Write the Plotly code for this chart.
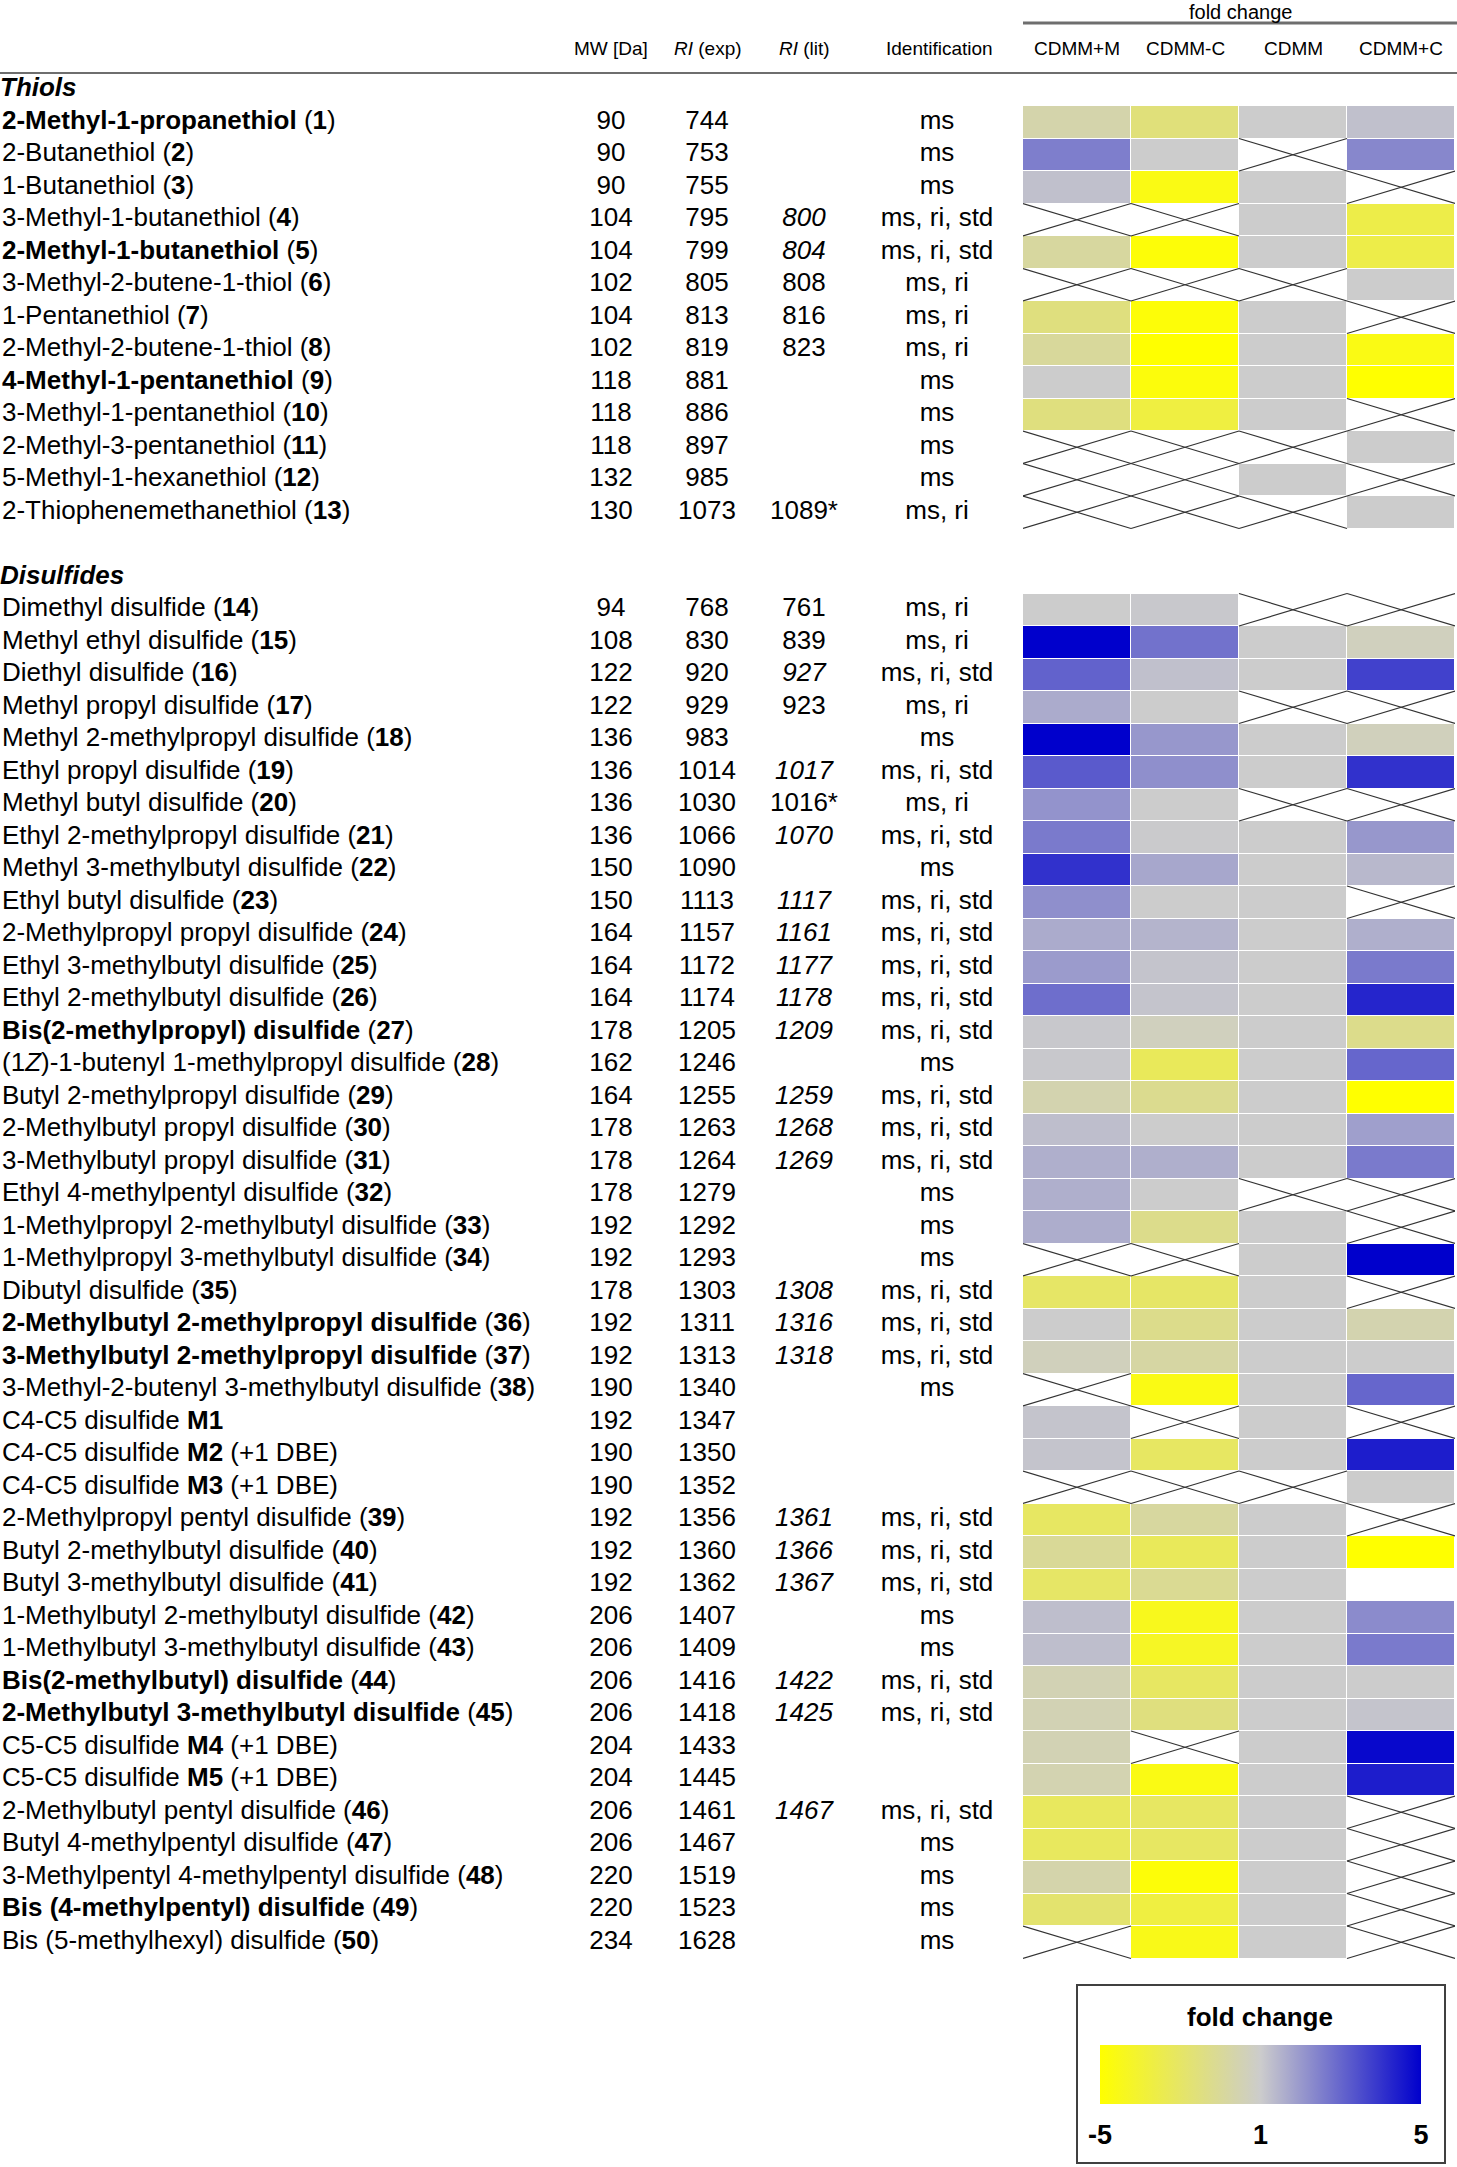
import numpy as np
import plotly.graph_objects as go

FONT = "Liberation Sans, Arial, sans-serif"

# ---- thiols ----
thiol_names = ["2-Methyl-1-propanethiol", "2-Butanethiol", "1-Butanethiol", "3-Methyl-1-butanethiol",
               "2-Methyl-1-butanethiol", "3-Methyl-2-butene-1-thiol", "1-Pentanethiol",
               "2-Methyl-2-butene-1-thiol", "4-Methyl-1-pentanethiol", "3-Methyl-1-pentanethiol",
               "2-Methyl-3-pentanethiol", "5-Methyl-1-hexanethiol", "2-Thiophenemethanethiol"]
thiol_ids = ["1", "2", "3", "4", "5", "6", "7", "8", "9", "10", "11", "12", "13"]
thiol_notes = [""] * 13
thiol_mw = [90, 90, 90, 104, 104, 102, 104, 102, 118, 118, 118, 132, 130]
thiol_ri_exp = [744, 753, 755, 795, 799, 805, 813, 819, 881, 886, 897, 985, 1073]
thiol_ri_lit = ["", "", "", "800", "804", "808", "816", "823", "", "", "", "", "1089*"]
thiol_ident = ["ms", "ms", "ms", "ms, ri, std", "ms, ri, std", "ms, ri", "ms, ri", "ms, ri",
               "ms", "ms", "ms", "ms", "ms, ri"]

# ---- disulfides ----
dis_names = ["Dimethyl disulfide", "Methyl ethyl disulfide", "Diethyl disulfide", "Methyl propyl disulfide",
             "Methyl 2-methylpropyl disulfide", "Ethyl propyl disulfide", "Methyl butyl disulfide",
             "Ethyl 2-methylpropyl disulfide", "Methyl 3-methylbutyl disulfide", "Ethyl butyl disulfide",
             "2-Methylpropyl propyl disulfide", "Ethyl 3-methylbutyl disulfide", "Ethyl 2-methylbutyl disulfide",
             "Bis(2-methylpropyl) disulfide", "(1<i>Z</i>)-1-butenyl 1-methylpropyl disulfide",
             "Butyl 2-methylpropyl disulfide", "2-Methylbutyl propyl disulfide", "3-Methylbutyl propyl disulfide",
             "Ethyl 4-methylpentyl disulfide", "1-Methylpropyl 2-methylbutyl disulfide",
             "1-Methylpropyl 3-methylbutyl disulfide", "Dibutyl disulfide",
             "2-Methylbutyl 2-methylpropyl disulfide", "3-Methylbutyl 2-methylpropyl disulfide",
             "3-Methyl-2-butenyl 3-methylbutyl disulfide", "C4-C5 disulfide", "C4-C5 disulfide",
             "C4-C5 disulfide", "2-Methylpropyl pentyl disulfide", "Butyl 2-methylbutyl disulfide",
             "Butyl 3-methylbutyl disulfide", "1-Methylbutyl 2-methylbutyl disulfide",
             "1-Methylbutyl 3-methylbutyl disulfide", "Bis(2-methylbutyl) disulfide",
             "2-Methylbutyl 3-methylbutyl disulfide", "C5-C5 disulfide", "C5-C5 disulfide",
             "2-Methylbutyl pentyl disulfide", "Butyl 4-methylpentyl disulfide",
             "3-Methylpentyl 4-methylpentyl disulfide", "Bis (4-methylpentyl) disulfide",
             "Bis (5-methylhexyl) disulfide"]
dis_ids = ["14", "15", "16", "17", "18", "19", "20", "21", "22", "23", "24", "25", "26", "27", "28", "29",
           "30", "31", "32", "33", "34", "35", "36", "37", "38", "M1", "M2", "M3", "39", "40", "41", "42",
           "43", "44", "45", "M4", "M5", "46", "47", "48", "49", "50"]
dis_notes = [""] * 26 + ["(+1 DBE)", "(+1 DBE)"] + [""] * 7 + ["(+1 DBE)", "(+1 DBE)"] + [""] * 5
dis_mw = [94, 108, 122, 122, 136, 136, 136, 136, 150, 150, 164, 164, 164, 178, 162, 164, 178, 178, 178,
          192, 192, 178, 192, 192, 190, 192, 190, 190, 192, 192, 192, 206, 206, 206, 206, 204, 204,
          206, 206, 220, 220, 234]
dis_ri_exp = [768, 830, 920, 929, 983, 1014, 1030, 1066, 1090, 1113, 1157, 1172, 1174, 1205, 1246, 1255,
              1263, 1264, 1279, 1292, 1293, 1303, 1311, 1313, 1340, 1347, 1350, 1352, 1356, 1360, 1362,
              1407, 1409, 1416, 1418, 1433, 1445, 1461, 1467, 1519, 1523, 1628]
dis_ri_lit = ["761", "839", "927", "923", "", "1017", "1016*", "1070", "", "1117", "1161", "1177", "1178",
              "1209", "", "1259", "1268", "1269", "", "", "", "1308", "1316", "1318", "", "", "", "",
              "1361", "1366", "1367", "", "", "1422", "1425", "", "", "1467", "", "", "", ""]
dis_ident = ["ms, ri", "ms, ri", "ms, ri, std", "ms, ri", "ms", "ms, ri, std", "ms, ri", "ms, ri, std", "ms",
             "ms, ri, std", "ms, ri, std", "ms, ri, std", "ms, ri, std", "ms, ri, std", "ms", "ms, ri, std",
             "ms, ri, std", "ms, ri, std", "ms", "ms", "ms", "ms, ri, std", "ms, ri, std", "ms, ri, std", "ms",
             "", "", "", "ms, ri, std", "ms, ri, std", "ms, ri, std", "ms", "ms", "ms, ri, std", "ms, ri, std",
             "", "", "ms, ri, std", "ms", "ms", "ms", "ms"]

bold_ids = {"1", "5", "9", "27", "36", "37", "44", "45", "49"}

# fold change on the colour scale (-5 ... 5, centre = 1); "x" = not detected, None = empty
columns = ["CDMM+M", "CDMM-C", "CDMM", "CDMM+C"]
thiol_fc = {
    "CDMM+M": [-0.8, 1.9, 0.3, "x", -1.1, "x", -1.9, -1.2, 0.0, -1.9, "x", "x", "x"],
    "CDMM-C": [-2.0, 0.0, -4.5, "x", -4.8, "x", -4.8, -5.0, -4.7, -3.4, "x", "x", "x"],
    "CDMM":   [0.0, "x", 0.0, 0.0, 0.0, "x", 0.0, 0.0, 0.0, 0.0, "x", 0.0, "x"],
    "CDMM+C": [0.3, 1.7, "x", -3.2, -3.2, 0.0, "x", -4.5, -5.0, "x", 0.0, "x", 0.0],
}
dis_fc = {
    "CDMM+M": [0.0, 5.0, 2.6, 0.8, 5.0, 2.8, 1.4, 2.0, 3.8, 1.5, 0.8, 1.2, 2.3, 0.1, 0.1, -0.7, 0.35, 0.7,
               0.7, 0.75, "x", -2.5, 0.0, -0.4, "x", 0.2, 0.2, "x", -2.6, -1.3, -2.5, 0.35, 0.35, -0.6,
               -0.6, -0.6, -0.65, -2.7, -2.7, -0.8, -2.3, "x"],
    "CDMM-C": [0.1, 2.2, 0.3, 0.0, 1.3, 1.5, 0.0, 0.05, 0.9, 0.0, 0.6, 0.2, 0.2, -0.35, -2.8, -1.5, 0.0,
               0.7, 0.0, -1.6, "x", -2.5, -1.6, -1.0, -4.5, "x", -2.6, "x", -1.1, -2.8, -1.4, -4.3, -4.1,
               -2.6, -1.9, "x", -4.5, -2.6, -2.6, -4.8, -3.4, -4.4],
    "CDMM":   ["x", 0.0, 0.0, "x", 0.0, 0.0, "x", 0.0, 0.0, 0.0, 0.0, 0.0, 0.0, 0.0, 0.0, 0.0, 0.0, 0.0,
               "x", 0.0, 0.0, 0.0, 0.0, 0.0, 0.0, 0.0, 0.0, "x", 0.0, 0.0, 0.0, 0.0, 0.0, 0.0, 0.0, 0.0,
               0.0, 0.0, 0.0, 0.0, 0.0, 0.0],
    "CDMM+C": ["x", -0.35, 3.4, "x", -0.4, 3.8, "x", 1.3, 0.5, "x", 0.7, 2.0, 4.1, -1.6, 2.5, -5.0, 1.1,
               2.0, "x", "x", 5.0, "x", -0.7, 0.0, 2.5, "x", 4.3, 0.0, "x", -5.0, None, 1.6, 2.0, 0.0,
               0.2, 4.8, 4.3, "x", "x", "x", "x", "x"],
}


def name_html(name, cid, note):
    if cid.startswith("M"):
        s = f"{name} <b>{cid}</b>"
        return s + " " + note if note else s
    body = f"<b>{name}</b>" if cid in bold_ids else name
    return f"{body} (<b>{cid}</b>)"


def lit_html(val, ident):
    return f"<i>{val}</i>" if val and "std" in ident else val


def num(v):
    return v if isinstance(v, (int, float)) else np.nan


# table rows: thiols 0..12, blank, "Disulfides" header, disulfides
thiol_rows = list(range(len(thiol_names)))
dis_start = len(thiol_names) + 2
dis_rows = [dis_start + i for i in range(len(dis_names))]
n_rows = dis_start + len(dis_names)
all_rows = thiol_rows + dis_rows

labels = [name_html(n, c, t) for n, c, t in zip(thiol_names + dis_names, thiol_ids + dis_ids,
                                                 thiol_notes + dis_notes)]
mw = [str(v) for v in thiol_mw + dis_mw]
ri_exp = [str(v) for v in thiol_ri_exp + dis_ri_exp]
idents = thiol_ident + dis_ident
ri_lit = [lit_html(v, i) for v, i in zip(thiol_ri_lit + dis_ri_lit, idents)]

z = np.full((n_rows, len(columns)), np.nan)
cross_x, cross_y = [], []
for j, col in enumerate(columns):
    vals = thiol_fc[col] + dis_fc[col]
    for r, v in zip(all_rows, vals):
        z[r, j] = num(v)
        if v == "x":
            cross_x += [j - 0.5, j + 0.5, None, j - 0.5, j + 0.5, None]
            cross_y += [r - 0.5, r + 0.5, None, r + 0.5, r - 0.5, None]

W, H = 1457, 2167
ROW0, ROWH = 122.25, 32.5          # pixel centre of first row, row height
HM_L, HM_R = 1023, 1455            # heatmap pixel extent


def py(px):
    return 1 - px / H


fig = go.Figure()

fig.add_trace(go.Heatmap(
    z=z, x=list(range(len(columns))), y=list(range(n_rows)),
    colorscale=[[0, "#FFFF00"], [0.5, "#CCCCCC"], [1, "#0000CC"]],
    zmin=-5, zmax=5, xgap=1, ygap=1, hoverongaps=False,
    colorbar=dict(orientation="h", lenmode="pixels", len=321, thicknessmode="pixels", thickness=59,
                  x=1260.5 / W, xanchor="center", y=py(2045), yanchor="top", xpad=0, ypad=0,
                  outlinewidth=0, tickvals=[-5, 0, 5], ticktext=["-5", "1", "5"],
                  ticks="outside", ticklen=8, tickcolor="rgba(0,0,0,0)",
                  tickfont=dict(family=FONT, size=27, color="black", weight="bold")),
    xaxis="x", yaxis="y",
))

fig.add_trace(go.Scatter(x=cross_x, y=cross_y, mode="lines", line=dict(color="#333333", width=1.2),
                         hoverinfo="skip", showlegend=False, xaxis="x", yaxis="y"))

text_font = dict(family=FONT, size=26, color="black")
text_cols = [(2, labels, "middle right"), (611, mw, "middle center"), (707, ri_exp, "middle center"),
             (804, ri_lit, "middle center"), (937, idents, "middle center")]
for xpos, txt, tpos in text_cols:
    fig.add_trace(go.Scatter(x=[xpos] * len(txt), y=all_rows, text=txt, mode="text", textposition=tpos,
                             textfont=text_font, hoverinfo="skip", showlegend=False,
                             xaxis="x2", yaxis="y"))

# group headers
fig.add_trace(go.Scatter(x=[0, 0], y=[-1, len(thiol_names) + 1],
                         text=["<b><i>Thiols</i></b>", "<b><i>Disulfides</i></b>"],
                         mode="text", textposition="middle right", textfont=text_font,
                         hoverinfo="skip", showlegend=False, xaxis="x2", yaxis="y"))

head_font = dict(family=FONT, size=19, color="black")
annotations = []
for xpos, txt in [(611, "MW [Da]"), (708, "<i>RI</i> (exp)"), (805, "<i>RI</i> (lit)"),
                  (939, "Identification")]:
    annotations.append(dict(x=xpos / W, y=py(48), xref="paper", yref="paper", text=txt,
                            showarrow=False, font=head_font, xanchor="center", yanchor="middle"))
for j, col in enumerate(columns):
    annotations.append(dict(x=j, y=py(48), xref="x", yref="paper", text=col, showarrow=False,
                            font=head_font, xanchor="center", yanchor="middle"))
annotations.append(dict(x=(HM_L + W) / 2 / W, y=py(12), xref="paper", yref="paper", text="fold change",
                        showarrow=False, font=dict(family=FONT, size=20, color="black"),
                        xanchor="center", yanchor="middle"))
annotations.append(dict(x=1260 / W, y=py(2017), xref="paper", yref="paper", text="<b>fold change</b>",
                        showarrow=False, font=dict(family=FONT, size=26, color="black"),
                        xanchor="center", yanchor="middle"))

shapes = [
    dict(type="line", xref="paper", yref="paper", x0=0, x1=1, y0=py(73), y1=py(73),
         line=dict(color="#6e6e6e", width=2)),
    dict(type="line", xref="paper", yref="paper", x0=HM_L / W, x1=1, y0=py(23), y1=py(23),
         line=dict(color="#6e6e6e", width=3)),
    dict(type="rect", xref="paper", yref="paper", x0=1077 / W, x1=1445 / W, y0=py(2163), y1=py(1985),
         line=dict(color="#404040", width=2)),
]

fig.update_layout(
    width=W, height=H, margin=dict(l=0, r=0, t=0, b=0),
    paper_bgcolor="white", plot_bgcolor="rgba(0,0,0,0)",
    xaxis=dict(domain=[HM_L / W, HM_R / W], range=[-0.5, len(columns) - 0.5], visible=False,
               anchor="y", fixedrange=True),
    xaxis2=dict(domain=[0, 1], range=[0, W], visible=False, anchor="y", fixedrange=True),
    yaxis=dict(domain=[0, 1], range=[(H - ROW0) / ROWH, -ROW0 / ROWH], visible=False, fixedrange=True),
    annotations=annotations, shapes=shapes, showlegend=False,
)

# page body has a default 8px margin; drop it so the figure fills the window exactly
fig.write_html("out.html", config={"displayModeBar": False},
               post_script="document.body.style.margin = '0px';")
